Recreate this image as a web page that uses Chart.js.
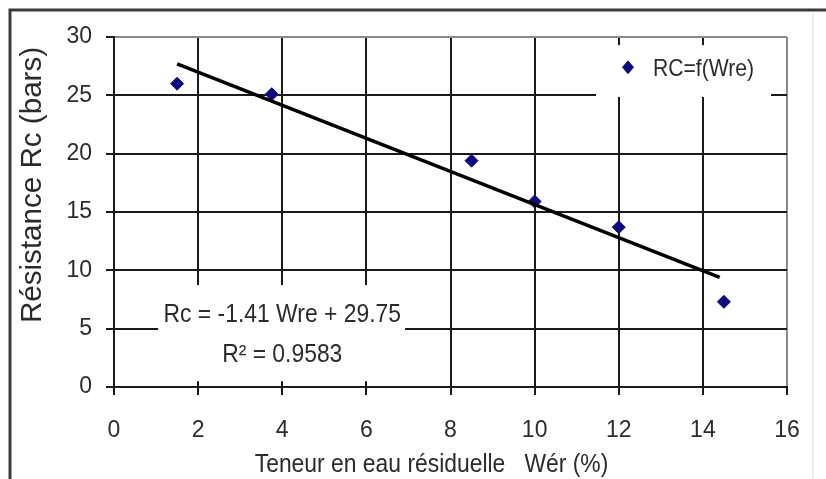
<!DOCTYPE html>
<html>
<head>
<meta charset="utf-8">
<script src="https://cdn.jsdelivr.net/npm/chart.js@4/dist/chart.umd.min.js"></script>
<style>
  html, body { margin: 0; padding: 0; background: #fff; }
  canvas { display: block; }
</style>
</head>
<body>
<canvas id="chart" width="826" height="479"></canvas>
<script>
// values
const waterContent = [1.5, 3.75, 8.5, 10, 12, 14.5];
const resistance = [26, 25.1, 19.4, 15.9, 13.7, 7.3];
// ends of the linear trend line as drawn
const trendX = [1.5, 14.4];
const trendY = [27.7, 9.4];

const seriesLabel = "RC=f(Wre)";
const equationText = "Rc = -1.41 Wre + 29.75";
const r2Text = "R² = 0.9583";
const xTitle = "Teneur en eau résiduelle   Wér (%)";
const yTitle = "Résistance Rc (bars)";

const ink = "#2b2b2b";
const gridInk = "#1a1a1a";
const pointInk = "#0b0b7e";
const fontFamily = '"Liberation Sans", Arial, sans-serif';

function drawText(ctx, text, x, y, size, align, rotate, squeeze) {
  ctx.save();
  ctx.translate(x, y);
  if (rotate) ctx.rotate(rotate);
  ctx.scale(squeeze || 0.88, 1);
  ctx.font = `${size}px ${fontFamily}`;
  ctx.fillStyle = ink;
  ctx.textAlign = align || "center";
  ctx.textBaseline = "alphabetic";
  ctx.fillText(text, 0, 0);
  ctx.restore();
}

const decorations = {
  id: "decorations",
  beforeDraw(chart) {
    const ctx = chart.ctx;
    ctx.save();
    ctx.fillStyle = "#fff";
    ctx.fillRect(0, 0, chart.width, chart.height);
    ctx.restore();
  },
  beforeDatasetsDraw(chart) {
    const { ctx, scales: { x, y } } = chart;
    ctx.save();
    ctx.fillStyle = "#fff";
    // legend box
    const lx0 = x.getPixelForValue(11.46), lx1 = x.getPixelForValue(15.62);
    const ly0 = y.getPixelForValue(29.3), ly1 = y.getPixelForValue(24.86);
    ctx.fillRect(lx0, ly0, lx1 - lx0, ly1 - ly0);
    // equation box
    const ex0 = x.getPixelForValue(1.05), ex1 = x.getPixelForValue(6.92);
    const ey0 = y.getPixelForValue(8.74), ey1 = y.getPixelForValue(0.5);
    ctx.fillRect(ex0, ey0, ex1 - ex0, ey1 - ey0);
    ctx.restore();
  },
  afterDraw(chart) {
    const { ctx, chartArea, scales: { x, y } } = chart;

    // outer frame
    ctx.save();
    ctx.strokeStyle = "#3a3a3a";
    ctx.lineWidth = 3;
    ctx.beginPath();
    ctx.moveTo(10, chart.height);
    ctx.lineTo(10, 10);
    ctx.lineTo(chart.width, 10);
    ctx.stroke();
    ctx.strokeStyle = "#ececec";
    ctx.lineWidth = 2;
    ctx.beginPath();
    ctx.moveTo(813, 14);
    ctx.lineTo(813, chart.height);
    ctx.stroke();
    ctx.restore();

    // legend
    const mx = x.getPixelForValue(12.22);
    const my = y.getPixelForValue(27.4);
    ctx.save();
    ctx.fillStyle = pointInk;
    ctx.beginPath();
    ctx.moveTo(mx - 6, my);
    ctx.lineTo(mx, my - 7);
    ctx.lineTo(mx + 6, my);
    ctx.lineTo(mx, my + 7);
    ctx.closePath();
    ctx.fill();
    ctx.restore();
    drawText(ctx, seriesLabel, mx + 25, my + 9, 24, "left");

    // equation
    const cx = x.getPixelForValue(4.0);
    drawText(ctx, equationText, cx, y.getPixelForValue(5.6), 26, "center");
    drawText(ctx, r2Text, cx, y.getPixelForValue(2.15), 26, "center");

    // axis titles
    drawText(ctx, xTitle, (chartArea.left + chartArea.right) / 2 - 19, 472, 26, "center");
    drawText(ctx, yTitle, 41, 185, 29, "center", -Math.PI / 2, 1.02);
  },
};

const ctx = document.getElementById("chart");

new Chart(ctx, {
  type: "scatter",
  data: {
    datasets: [
      {
        label: seriesLabel,
        data: waterContent.map((w, i) => ({ x: w, y: resistance[i] })),
        pointStyle: "rectRot",
        pointRadius: 6.5,
        pointHoverRadius: 6.5,
        backgroundColor: pointInk,
        borderColor: pointInk,
        borderWidth: 1,
        order: 1,
      },
      {
        type: "line",
        label: "trend",
        data: trendX.map((w, i) => ({ x: w, y: trendY[i] })),
        borderColor: "#000",
        borderWidth: 3.5,
        pointRadius: 0,
        fill: false,
        order: 0,
      },
    ],
  },
  options: {
    responsive: false,
    animation: false,
    layout: { padding: { top: 37, right: 39, left: 0, bottom: 0 } },
    plugins: {
      legend: { display: false },
      tooltip: { enabled: false },
    },
    scales: {
      x: {
        type: "linear",
        min: 0,
        max: 16,
        afterFit(scale) {
          scale.height = 92;
          scale.paddingLeft = 0;
          scale.paddingRight = 0;
        },
        ticks: {
          stepSize: 2,
          padding: 22,
          color: ink,
          font: { family: fontFamily, size: 23 },
          maxRotation: 0,
        },
        grid: {
          color: (c) => (c.tick && c.tick.value === 16 ? "#8a8a8a" : gridInk),
          lineWidth: 2,
          tickLength: 8,
          tickColor: gridInk,
          tickWidth: 2,
        },
        border: { color: gridInk, width: 2 },
      },
      y: {
        type: "linear",
        min: 0,
        max: 30,
        afterFit(scale) {
          scale.width = 114;
          scale.paddingTop = 0;
          scale.paddingBottom = 0;
        },
        ticks: {
          stepSize: 5,
          padding: 14,
          color: ink,
          font: { family: fontFamily, size: 23 },
        },
        grid: {
          color: (c) => (c.tick && c.tick.value === 30 ? "#8a8a8a" : gridInk),
          lineWidth: 2,
          tickLength: 8,
          tickColor: gridInk,
          tickWidth: 2,
        },
        border: { color: gridInk, width: 2 },
      },
    },
  },
  plugins: [decorations],
});
</script>
</body>
</html>
